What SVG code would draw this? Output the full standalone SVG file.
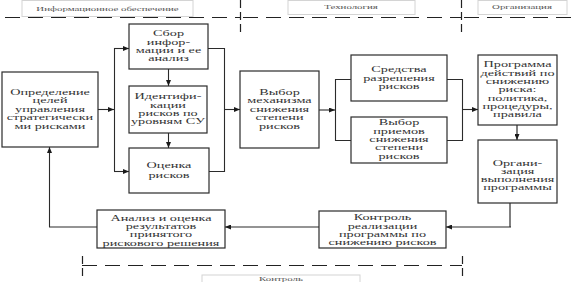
<svg xmlns="http://www.w3.org/2000/svg" width="576" height="282" viewBox="0 0 576 282">
<style>
.box{fill:#fff;stroke:#2b2b2b;stroke-width:1.2}
.lbl{fill:#fff;stroke:#d4d4d4;stroke-width:1}
.t{font-family:"Liberation Serif","Times New Roman",serif;font-size:7.5px;fill:#333;text-anchor:middle}
.lt{font-family:"Liberation Serif","Times New Roman",serif;font-size:7px;fill:#555;text-anchor:middle}
.c{fill:none;stroke:#2b2b2b;stroke-width:1.1}
.g{fill:none;stroke:#808080;stroke-width:2}
.dash{fill:none;stroke:#222;stroke-width:1.2;stroke-dasharray:15 8}
.vd{fill:none;stroke:#222;stroke-width:1.2;stroke-dasharray:8 4}
</style>
<defs>
<marker id="ah" markerUnits="userSpaceOnUse" markerWidth="6" markerHeight="5" refX="6" refY="2.5" orient="auto">
<path d="M0,0 L6,2.5 L0,5 z" fill="#1a1a1a"/>
</marker>
</defs>
<rect width="576" height="282" fill="#fff"/>

<g id="frames">
<path class="dash" d="M5,17.5 H240"/>
<path class="dash" d="M243,17.5 H461"/>
<path class="dash" d="M464,17.5 H576"/>
<path class="vd" d="M240.5,0 V34"/>
<path class="vd" d="M461.5,0 V34"/>
<path class="dash" d="M82,265.5 H462"/>
<path class="vd" d="M82.5,256 V280"/>
<path class="vd" d="M462.5,256 V280"/>
</g>

<g id="label-info">
<rect class="lbl" x="22" y="0.5" width="171" height="16"/>
<g transform="translate(107.5,0) scale(1.55,1)"><text class="lt" x="0" y="11">Информационное обеспечение</text></g>
</g>
<g id="label-tech">
<rect class="lbl" x="288" y="0.5" width="127" height="14"/>
<g transform="translate(351,0) scale(1.55,1)"><text class="lt" x="0" y="9.5">Технология</text></g>
</g>
<g id="label-org">
<rect class="lbl" x="478" y="0.5" width="89" height="14"/>
<g transform="translate(522,0) scale(1.55,1)"><text class="lt" x="0" y="9.5">Организация</text></g>
</g>
<g id="label-control">
<rect class="lbl" x="202" y="275" width="158" height="10"/>
<g transform="translate(281,0) scale(1.55,1)"><text class="lt" x="0" y="281.5">Контроль</text></g>
</g>

<g id="connectors">
<path class="c" d="M98,109.5 H114" marker-end="url(#ah)"/>
<path class="c" d="M114.5,48 V171"/>
<path class="c" d="M114,48.5 H129" marker-end="url(#ah)"/>
<path class="c" d="M114,171.5 H129" marker-end="url(#ah)"/>
<path class="c" d="M168.5,69 V86" marker-end="url(#ah)"/>
<path class="c" d="M168.5,133 V148" marker-end="url(#ah)"/>
<path class="c" d="M208,48.5 H224.5 V171.5 H209"/>
<path class="c" d="M224,109.5 H240" marker-end="url(#ah)"/>
<path class="c" d="M319,110 H335" marker-end="url(#ah)"/>
<path class="c" d="M351,79.5 H335.5 V140.5 H351"/>
<path class="c" d="M447,79.5 H462.5 V140.5 H447"/>
<path class="c" d="M462,109.5 H478" marker-end="url(#ah)"/>
<path class="g" d="M517,125 V140" marker-end="url(#ah)"/>
<path class="g" d="M510,203 V227"/>
<path class="c" d="M511,227 H446" marker-end="url(#ah)"/>
<path class="c" d="M319,227 H225" marker-end="url(#ah)"/>
<path class="c" d="M97,227 H49.5 V147" marker-end="url(#ah)"/>
</g>

<g id="n-goals">
<rect class="box" x="2" y="72" width="96" height="75"/>
<g transform="translate(50,0) scale(1.9,1)"><text class="t"><tspan x="0" y="95">Определение</tspan><tspan x="0" y="103.5">целей</tspan><tspan x="0" y="112">управления</tspan><tspan x="0" y="120.5">стратегически</tspan><tspan x="0" y="129">ми рисками</tspan></text></g>
</g>

<g id="n-collect">
<rect class="box" x="129" y="24" width="79" height="45"/>
<g transform="translate(168.5,0) scale(1.9,1)"><text class="t"><tspan x="0" y="36.4">Сбор</tspan><tspan x="0" y="44.7">инфор-</tspan><tspan x="0" y="53">мации и ее</tspan><tspan x="0" y="61.3">анализ</tspan></text></g>
</g>

<g id="n-ident">
<rect class="box" x="129" y="86" width="78" height="47"/>
<g transform="translate(168,0) scale(1.9,1)"><text class="t"><tspan x="0" y="99.3">Идентифи-</tspan><tspan x="0" y="107.6">кации</tspan><tspan x="0" y="115.9">рисков по</tspan><tspan x="0" y="124.2">уровням СУ</tspan></text></g>
</g>

<g id="n-assess">
<rect class="box" x="129" y="148" width="80" height="45"/>
<g transform="translate(169,0) scale(1.9,1)"><text class="t"><tspan x="0" y="168">Оценка</tspan><tspan x="0" y="178">рисков</tspan></text></g>
</g>

<g id="n-mechanism">
<rect class="box" x="240" y="71" width="79" height="77"/>
<g transform="translate(279.5,0) scale(1.9,1)"><text class="t"><tspan x="0" y="95">Выбор</tspan><tspan x="0" y="103.5">механизма</tspan><tspan x="0" y="112">снижения</tspan><tspan x="0" y="120.5">степени</tspan><tspan x="0" y="129">рисков</tspan></text></g>
</g>

<g id="n-means">
<rect class="box" x="351" y="55" width="96" height="46"/>
<g transform="translate(399,0) scale(1.9,1)"><text class="t"><tspan x="0" y="72.5">Средства</tspan><tspan x="0" y="80.8">разрешения</tspan><tspan x="0" y="89.1">рисков</tspan></text></g>
</g>

<g id="n-methods">
<rect class="box" x="351" y="117" width="96" height="46"/>
<g transform="translate(399,0) scale(1.9,1)"><text class="t"><tspan x="0" y="125.4">Выбор</tspan><tspan x="0" y="133.7">приемов</tspan><tspan x="0" y="142">снижения</tspan><tspan x="0" y="150.3">степени</tspan><tspan x="0" y="158.6">рисков</tspan></text></g>
</g>

<g id="n-program">
<rect class="box" x="478" y="55" width="79" height="70"/>
<g transform="translate(517.5,0) scale(1.9,1)"><text class="t"><tspan x="0" y="67.4">Программа</tspan><tspan x="0" y="75.7">действий по</tspan><tspan x="0" y="84">снижению</tspan><tspan x="0" y="92.3">риска:</tspan><tspan x="0" y="100.6">политика,</tspan><tspan x="0" y="108.9">процедуры,</tspan><tspan x="0" y="117.2">правила</tspan></text></g>
</g>

<g id="n-organize">
<rect class="box" x="478" y="140" width="79" height="63"/>
<g transform="translate(517.5,0) scale(1.9,1)"><text class="t"><tspan x="0" y="165.6">Органи-</tspan><tspan x="0" y="173.9">зация</tspan><tspan x="0" y="182.2">выполнения</tspan><tspan x="0" y="190.5">программы</tspan></text></g>
</g>

<g id="n-control">
<rect class="box" x="319" y="211" width="127" height="37"/>
<g transform="translate(382.5,0) scale(1.9,1)"><text class="t"><tspan x="0" y="220.3">Контроль</tspan><tspan x="0" y="228.6">реализации</tspan><tspan x="0" y="236.9">программы по</tspan><tspan x="0" y="245.2">снижению рисков</tspan></text></g>
</g>

<g id="n-analysis">
<rect class="box" x="97" y="210" width="128" height="38"/>
<g transform="translate(161,0) scale(1.9,1)"><text class="t"><tspan x="0" y="220.8">Анализ и оценка</tspan><tspan x="0" y="229.1">результатов</tspan><tspan x="0" y="237.4">принятого</tspan><tspan x="0" y="245.7">рискового решения</tspan></text></g>
</g>
</svg>
